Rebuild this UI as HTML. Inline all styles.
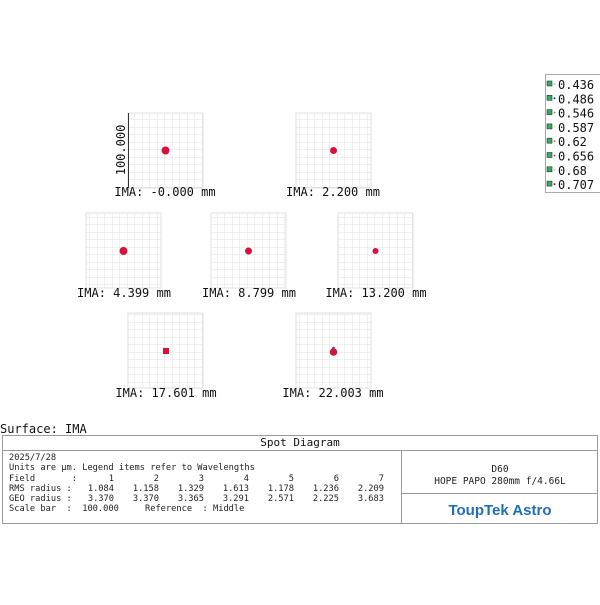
<!DOCTYPE html>
<html><head><meta charset="utf-8"><style>
body{margin:0;background:#fff;width:600px;height:600px;overflow:hidden}
text{font-family:"DejaVu Sans Mono","Liberation Mono",monospace;white-space:pre}
</style></head><body>
<svg width="600" height="600" viewBox="0 0 600 600" xmlns="http://www.w3.org/2000/svg">
<defs>
<pattern id="g" width="7.5" height="7.5" patternUnits="userSpaceOnUse">
<path d="M7.5 0V7.5H0" fill="none" stroke="#e2e2e2" stroke-width="1"/>
</pattern>
</defs>
<rect x="128" y="113" width="75" height="75" fill="url(#g)" stroke="#e2e2e2"/>
<rect x="296" y="113" width="75" height="75" fill="url(#g)" stroke="#e2e2e2"/>
<rect x="86" y="213" width="75" height="75" fill="url(#g)" stroke="#e2e2e2"/>
<rect x="211" y="213" width="75" height="75" fill="url(#g)" stroke="#e2e2e2"/>
<rect x="338" y="213" width="75" height="75" fill="url(#g)" stroke="#e2e2e2"/>
<rect x="128" y="313" width="75" height="75" fill="url(#g)" stroke="#e2e2e2"/>
<rect x="296" y="313" width="75" height="75" fill="url(#g)" stroke="#e2e2e2"/>
<line x1="128.5" y1="113" x2="128.5" y2="188" stroke="#333"/>
<text transform="translate(125,150) rotate(-90)" text-anchor="middle" font-size="12" fill="#111">100.000</text>
<g fill="#d8103c">
<circle cx="165.5" cy="150.5" r="4"/>
<circle cx="333.5" cy="150.5" r="3.5"/>
<circle cx="123.5" cy="251" r="4"/>
<circle cx="248.5" cy="251" r="3.5"/>
<circle cx="375.5" cy="251" r="3"/>
<rect x="163" y="348" width="6" height="6"/>
<circle cx="333.5" cy="352" r="3.8"/>
</g>
<circle cx="333.5" cy="348" r="1.3" fill="#5a3aa0"/>
<g font-size="12" fill="#111" text-anchor="middle">
<text x="165" y="196">IMA: -0.000 mm</text>
<text x="333" y="196">IMA: 2.200 mm</text>
<text x="124" y="297">IMA: 4.399 mm</text>
<text x="249" y="297">IMA: 8.799 mm</text>
<text x="376" y="297">IMA: 13.200 mm</text>
<text x="166" y="397">IMA: 17.601 mm</text>
<text x="333" y="397">IMA: 22.003 mm</text>
</g>
<rect x="545.5" y="74.5" width="60" height="118" fill="#fff" stroke="#aaa"/>
<g font-size="12" fill="#111">
<text x="558" y="89">0.436</text><text x="558" y="103.3">0.486</text>
<text x="558" y="117.6">0.546</text><text x="558" y="131.9">0.587</text>
<text x="558" y="146.2">0.62</text><text x="558" y="160.5">0.656</text>
<text x="558" y="174.8">0.68</text><text x="558" y="189.1">0.707</text>
</g>
<g stroke="#333" stroke-width="0.6" fill="#3a6">
<rect x="547" y="81" width="5" height="5"/><rect x="547" y="95.3" width="5" height="5"/>
<rect x="547" y="109.6" width="5" height="5"/><rect x="547" y="123.9" width="5" height="5"/>
<rect x="547" y="138.2" width="5" height="5"/><rect x="547" y="152.5" width="5" height="5"/>
<rect x="547" y="166.8" width="5" height="5"/><rect x="547" y="181.1" width="5" height="5"/>
</g>
<g>
<circle cx="554.5" cy="84" r="1" fill="#bbb"/><circle cx="554.5" cy="98.3" r="1" fill="#0033dd"/>
<circle cx="554.5" cy="112.6" r="1" fill="#3c3"/><circle cx="554.5" cy="126.9" r="1" fill="#ee9"/>
<circle cx="554.5" cy="141.2" r="1" fill="#f60"/><circle cx="554.5" cy="155.5" r="1" fill="#e24"/>
<circle cx="554.5" cy="169.8" r="1" fill="#fab"/><circle cx="554.5" cy="184.1" r="1" fill="#c03"/>
</g>
<text x="0" y="433" font-size="12" fill="#111">Surface: IMA</text>
<rect x="2.5" y="435.5" width="595" height="88" fill="none" stroke="#999"/>
<line x1="2" y1="450.5" x2="598" y2="450.5" stroke="#999"/>
<line x1="401.5" y1="450" x2="401.5" y2="524" stroke="#999"/>
<line x1="401" y1="493.5" x2="598" y2="493.5" stroke="#999"/>
<text x="300" y="446" font-size="11" text-anchor="middle" fill="#111">Spot Diagram</text>
<g font-size="8.7" fill="#222">
<text x="9" y="460">2025/7/28</text>
<text x="9" y="470">Units are µm. Legend items refer to Wavelengths</text>
<text x="9" y="481">Field       :</text>
<text x="9" y="491">RMS radius :</text>
<text x="9" y="501">GEO radius :</text>
<text x="9" y="511">Scale bar  :  100.000     Reference  : Middle</text>
</g>
<g font-size="8.7" fill="#222" text-anchor="end">
<text x="114" y="481">1</text><text x="159" y="481">2</text><text x="204" y="481">3</text><text x="249" y="481">4</text><text x="294" y="481">5</text><text x="339" y="481">6</text><text x="384" y="481">7</text>
<text x="114" y="491">1.084</text><text x="159" y="491">1.158</text><text x="204" y="491">1.329</text><text x="249" y="491">1.613</text><text x="294" y="491">1.178</text><text x="339" y="491">1.236</text><text x="384" y="491">2.209</text>
<text x="114" y="501">3.370</text><text x="159" y="501">3.370</text><text x="204" y="501">3.365</text><text x="249" y="501">3.291</text><text x="294" y="501">2.571</text><text x="339" y="501">2.225</text><text x="384" y="501">3.683</text>
</g>
<g font-size="9.5" fill="#222" text-anchor="middle">
<text x="500" y="472">D60</text>
<text x="500" y="484">HOPE PAPO 280mm f/4.66L</text>
</g>
<text x="500" y="515" font-size="15" font-weight="bold" text-anchor="middle" fill="#1f6fb8" style="font-family:'Liberation Sans',sans-serif">ToupTek Astro</text>
</svg>
</body></html>
